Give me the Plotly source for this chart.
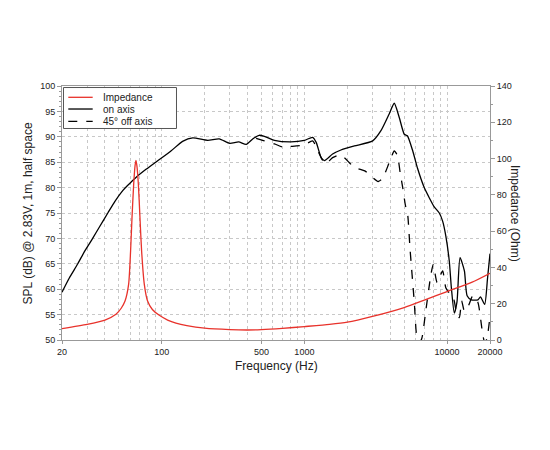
import plotly.graph_objects as go

# on axis SPL (dB)
freq_on = [20, 22.5, 25.8, 29, 32.8, 36.5, 41.9, 47, 53.3, 57.6, 66, 77.6, 93.7, 116,
           140, 165, 210, 253, 300, 346, 391, 436, 482, 524, 617, 804, 1000, 1142,
           1210, 1311, 1382, 1577, 1803, 2240, 3010, 3440, 3930, 4266, 4624, 5015,
           5270, 5750, 6210, 6920, 7500, 8130, 8820, 9310, 9800, 10370, 10720, 11240,
           11740, 12330, 13230, 13820, 14800, 16460, 17140, 18350, 19200, 20000]
spl_on = [59.4, 62.2, 65, 67.6, 70, 72.2, 75, 77.3, 79.4, 80.4, 82.0, 83.6, 85.3, 87.2,
          89.1, 89.8, 89.3, 89.6, 88.7, 89.0, 88.5, 89.6, 90.3, 90.1, 89.3, 89.0, 89.3,
          89.9, 88.9, 85.9, 85.3, 86.6, 87.4, 88.2, 89.2, 91.2, 94.5, 96.6, 93.8, 90.5,
          90.2, 87.2, 83.8, 80.0, 78.0, 76.2, 75.0, 73.4, 70.5, 65.5, 60.3, 55.3,
          57.5, 66.2, 63.6, 58.7, 57.9, 57.9, 58.5, 57.0, 62.0, 67.0]

# 45 deg off axis SPL (dB)
freq_off = [459, 524, 617, 705, 804, 1000, 1142, 1245, 1346, 1413, 1577, 1755, 1900,
            2240, 2650, 2845, 3290, 3530, 3930, 4266, 4490, 4710, 4890, 5100, 5290,
            5500, 5890, 6150, 6400, 6650, 7090, 7710, 8000, 8520, 9310, 9800, 10500,
            11150, 11700, 12200, 12650, 13230, 14100, 15120, 15750, 16460, 17640,
            18350, 19000, 20000]
spl_off = [89.7, 89.2, 88.6, 88.0, 88.1, 88.4, 89.2, 87.2, 85.3, 84.7, 85.9, 86.4, 85.9,
           84.0, 83.3, 82.6, 81.2, 81.8, 84.9, 87.2, 86.3, 82.6, 80.0, 76.6, 74.8,
           68.0, 57.5, 50.5, 49.6, 50.3, 55.7, 62.9, 64.9, 61.3, 63.6, 60.3, 59.0,
           58.0, 55.1, 54.4, 57.7, 55.7, 56.7, 58.7, 58.0, 57.4, 51.8, 49.5, 50.2, 54.7]

# impedance (Ohm)
freq_imp = [20, 30, 40, 47.8, 52, 55.3, 58.6, 60.5, 61.9, 63.6, 65, 66, 67, 68.6, 70.4,
            72.3, 75.5, 79.6, 86, 96.2, 110, 125.8, 150, 200, 300, 400, 500, 700, 1000,
            1500, 2000, 3000, 5000, 7000, 10000, 15000, 20000]
imp = [6.3, 8.6, 11.0, 14.2, 17.5, 21.5, 30.7, 49, 67.4, 85.8, 96, 99, 96, 85.8, 67.4,
       49, 30.7, 21.5, 16.8, 13.6, 11.0, 9.3, 7.9, 6.5, 5.7, 5.5, 5.7, 6.4, 7.4,
       8.6, 9.8, 13.0, 17.9, 22.1, 26.7, 31.9, 36.8]

label_freqs = [20, 100, 500, 1000, 10000, 20000]
minor_freqs = [30, 40, 50, 60, 70, 80, 90, 200, 300, 400, 600, 700, 800, 900,
               2000, 3000, 4000, 5000, 6000, 7000, 8000, 9000]

FONT = "Liberation Sans, Arial, sans-serif"
RED = "#e8322b"
AXIS = "#999"
GRID = "#c8c8c8"

fig = go.Figure()
fig.add_trace(go.Scatter(x=freq_imp, y=imp, name="Impedance", yaxis="y2",
                         mode="lines", line=dict(color=RED, width=1.3,
                                                 shape="spline", smoothing=0.6)))
fig.add_trace(go.Scatter(x=freq_on, y=spl_on, name="on axis", mode="lines",
                         line=dict(color="black", width=1.3, shape="spline", smoothing=0.6)))
fig.add_trace(go.Scatter(x=freq_off, y=spl_off, name="45° off axis", mode="lines",
                         line=dict(color="black", width=1.3, dash="dash",
                                   shape="spline", smoothing=0.6)))

# legend drawn by hand so the rows sit as tight as in the original
legend_rows = [("Impedance", RED, "solid", 0.9555),
               ("on axis", "black", "solid", 0.9094),
               ("45° off axis", "black", "dash", 0.861)]
shapes = [dict(type="rect", xref="paper", yref="paper", x0=0.0035, x1=0.2675,
               y0=0.8327, y1=0.994, line=dict(color="#555", width=1),
               fillcolor="white", layer="above")]
annotations = []
for name, color, dash, yy in legend_rows:
    shapes.append(dict(type="line", xref="paper", yref="paper", x0=0.0147, x1=0.0717,
                       y0=yy, y1=yy, line=dict(color=color, width=1.3, dash=dash),
                       layer="above"))
    annotations.append(dict(text=name, xref="paper", yref="paper", x=0.0911, y=yy,
                            xanchor="left", yanchor="middle", showarrow=False,
                            font=dict(size=10, color="#222")))

annotations += [
    dict(text="SPL (dB) @ 2.83V, 1m, half space", xref="paper", yref="paper",
         x=-0.0995, y=0.5, textangle=-90, showarrow=False,
         font=dict(size=12, color="#222")),
    dict(text="Impedance (Ohm)", xref="paper", yref="paper",
         x=1.0795, y=0.5, textangle=90, showarrow=False,
         font=dict(size=12, color="#222")),
    dict(text="Frequency (Hz)", xref="paper", yref="paper",
         x=0.5, y=-0.102, yanchor="middle", showarrow=False,
         font=dict(size=12, color="#222")),
]

fig.update_layout(
    width=550, height=450,
    margin=dict(l=54, r=68, t=78, b=118),
    paper_bgcolor="white", plot_bgcolor="white",
    font=dict(family=FONT, size=9, color="#222"),
    showlegend=False,
    xaxis=dict(type="log", range=[1.30103, 4.30103],
               tickvals=label_freqs, ticktext=[str(f) for f in label_freqs],
               ticks="outside", ticklen=3, tickcolor=AXIS,
               showgrid=True, gridcolor=GRID, griddash="dot", gridwidth=1,
               minor=dict(tickvals=minor_freqs, showgrid=True, gridcolor=GRID,
                          griddash="dot", ticks=""),
               showline=True, linecolor=AXIS, mirror=True, zeroline=False),
    yaxis=dict(range=[50, 100], dtick=5, showgrid=True, gridcolor=GRID,
               griddash="dot", showline=True, linecolor=AXIS,
               ticks="outside", ticklen=4, tickcolor=AXIS,
               minor=dict(dtick=1, ticks="outside", ticklen=2, tickcolor=AXIS,
                          showgrid=False),
               zeroline=False),
    yaxis2=dict(range=[0, 140], dtick=20, overlaying="y", side="right",
                showgrid=False, showline=True, linecolor=AXIS,
                ticks="outside", ticklen=4, tickcolor=AXIS,
                minor=dict(dtick=10, ticks="outside", ticklen=2, tickcolor=AXIS),
                zeroline=False),
    shapes=shapes,
    annotations=annotations,
)

fig.write_html("out.html")
